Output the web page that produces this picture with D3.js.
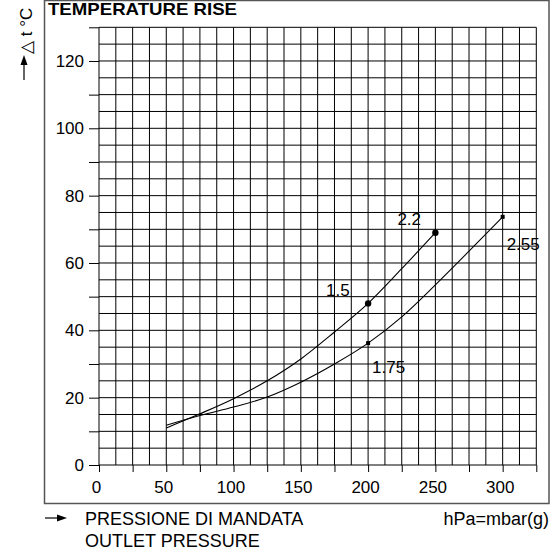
<!DOCTYPE html>
<html><head><meta charset="utf-8">
<script src="https://cdn.jsdelivr.net/npm/d3@7"></script>
<style>body{margin:0;background:#fff}svg{display:block}text{font-family:"Liberation Sans",Arial,sans-serif}</style>
</head><body>
<script>
// ---- data ----
const xUpper = [50, 75, 100, 125, 150, 175, 200, 225, 250];
const yUpper = [11.0, 15.2, 19.7, 25.0, 31.5, 39.5, 48.0, 58.3, 69.0];
const xLower = [50, 75, 100, 125, 150, 175, 200, 225, 250, 275, 300];
const yLower = [11.8, 14.7, 17.2, 20.2, 24.6, 30.0, 36.2, 44.0, 53.5, 63.5, 73.7];
const upperMarks = [{x:200,y:48.0,label:"1.5"},{x:250,y:69.0,label:"2.2"}];
const lowerMarks = [{x:200,y:36.2,label:"1.75"},{x:300,y:73.7,label:"2.55"}];
const xTickLabels = [0, 50, 100, 150, 200, 250, 300];
const yTickLabels = [0, 20, 40, 60, 80, 100, 120];
const titleText = "TEMPERATURE RISE";
const yAxisText = "\u25B3 t \u00B0C";
const xAxisText1 = "PRESSIONE DI MANDATA";
const xAxisText2 = "OUTLET PRESSURE";
const unitText = "hPa=mbar(g)";

const W = 558, H = 552;
const svg = d3.select("body").append("svg").attr("width", W).attr("height", H);

const x = d3.scaleLinear().domain([0, 325]).range([99, 536.3]);
const y = d3.scaleLinear().domain([0, 130]).range([465, 27.3]);

// frame
svg.append("rect").attr("x", 44.5).attr("y", 0.5).attr("width", 504.5).attr("height", 503)
  .attr("fill", "none").attr("stroke", "#555").attr("stroke-width", 1.5);

// grid
const g = svg.append("g");
d3.range(0, 325.01, 12.5).forEach(v => {
  g.append("line").attr("x1", x(v)).attr("x2", x(v)).attr("y1", y(0)).attr("y2", y(130))
    .attr("stroke", "#000").attr("stroke-width", 1);
});
d3.range(0, 130.01, 5).forEach(v => {
  g.append("line").attr("x1", x(0)).attr("x2", x(325)).attr("y1", y(v)).attr("y2", y(v))
    .attr("stroke", "#000").attr("stroke-width", 1);
});

// axes (ticks only)
const xAxis = d3.axisBottom(x).tickValues(d3.range(0, 325.01, 25)).tickSize(7)
  .tickFormat(d => xTickLabels.includes(d) ? d : "");
const xa = svg.append("g").attr("transform", `translate(0,${y(0)})`).call(xAxis);
xa.select(".domain").remove();
xa.selectAll("line").attr("stroke", "#000");
xa.selectAll("text").attr("font-size", 17).attr("fill", "#000")
  .attr("font-family", "Liberation Sans, Arial, sans-serif").attr("dx", -3).attr("dy", "1.05em");

const yAxis = d3.axisLeft(y).tickValues(d3.range(0, 130.01, 10)).tickSize(10)
  .tickFormat(d => yTickLabels.includes(d) ? d : "");
const ya = svg.append("g").attr("transform", `translate(${x(0)},0)`).call(yAxis);
ya.select(".domain").remove();
ya.selectAll("line").attr("stroke", "#000");
ya.selectAll("text").attr("font-size", 17).attr("fill", "#000")
  .attr("font-family", "Liberation Sans, Arial, sans-serif").attr("x", -15);

// curves
const line = d3.line().x(d => x(d[0])).y(d => y(d[1])).curve(d3.curveMonotoneX);
svg.append("path").datum(xUpper.map((v, i) => [v, yUpper[i]])).attr("d", line)
  .attr("fill", "none").attr("stroke", "#000").attr("stroke-width", 1.1);
svg.append("path").datum(xLower.map((v, i) => [v, yLower[i]])).attr("d", line)
  .attr("fill", "none").attr("stroke", "#000").attr("stroke-width", 1.1);

svg.selectAll("circle.up").data(upperMarks).enter().append("circle")
  .attr("cx", d => x(d.x)).attr("cy", d => y(d.y)).attr("r", 3.2).attr("fill", "#000");
svg.selectAll("rect.lo").data(lowerMarks).enter().append("rect")
  .attr("x", d => x(d.x) - 2).attr("y", d => y(d.y) - 2).attr("width", 4).attr("height", 4).attr("fill", "#000");

// curve labels (offsets relative to marker positions)
const lblOff = {"1.5": [-42, -7], "2.2": [-38, -8], "1.75": [4, 30], "2.55": [4, 33]};
svg.selectAll("text.cl").data(upperMarks.concat(lowerMarks)).enter().append("text")
  .attr("x", d => x(d.x) + lblOff[d.label][0]).attr("y", d => y(d.y) + lblOff[d.label][1])
  .attr("font-size", 17).attr("fill", "#000").text(d => d.label);

// title
svg.append("text").attr("x", 48).attr("y", 14.5).attr("font-size", 17).attr("font-weight", "bold")
  .attr("textLength", 189).attr("lengthAdjust", "spacingAndGlyphs").text(titleText);

// y axis label (rotated) + arrow
svg.append("text").attr("transform", "translate(32,54) rotate(-90)")
  .attr("font-size", 17).attr("fill", "#000")
  .attr("font-family", "DejaVu Sans, Liberation Sans, sans-serif").text(yAxisText);
svg.append("line").attr("x1", 24).attr("x2", 24).attr("y1", 80).attr("y2", 62).attr("stroke", "#000").attr("stroke-width", 1.2);
svg.append("path").attr("d", "M24,55 L20.5,65 L27.5,65 Z").attr("fill", "#000");

// x axis label + arrow
svg.append("line").attr("x1", 45).attr("x2", 60).attr("y1", 518).attr("y2", 518).attr("stroke", "#000").attr("stroke-width", 1.2);
svg.append("path").attr("d", "M67,518 L57,514.5 L57,521.5 Z").attr("fill", "#000");
svg.append("text").attr("x", 85).attr("y", 525).attr("font-size", 18).attr("fill", "#000").text(xAxisText1);
svg.append("text").attr("x", 85).attr("y", 546.5).attr("font-size", 18).attr("fill", "#000").text(xAxisText2);
svg.append("text").attr("x", 549).attr("y", 525).attr("font-size", 18).attr("fill", "#000")
  .attr("text-anchor", "end").text(unitText);
</script>
</body></html>
